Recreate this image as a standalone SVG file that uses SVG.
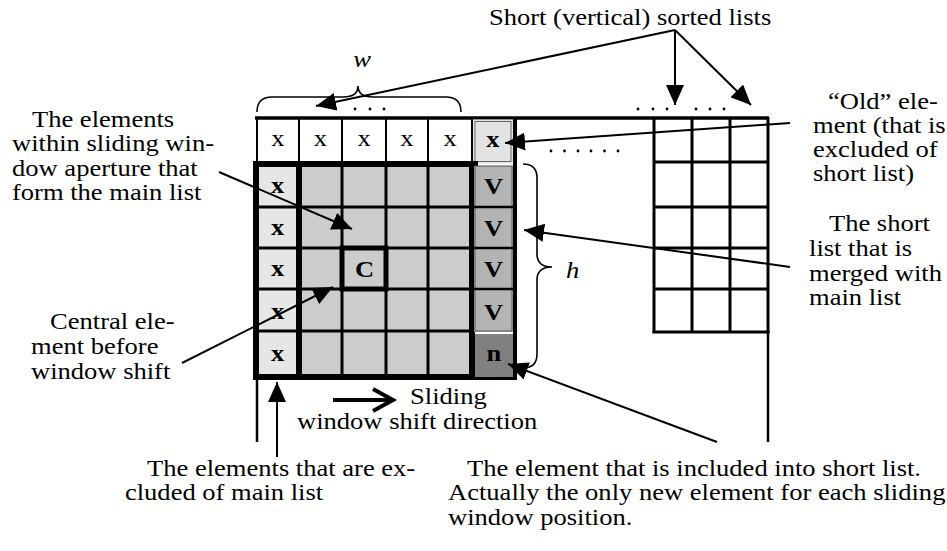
<svg xmlns="http://www.w3.org/2000/svg" width="947" height="551" viewBox="0 0 947 551">
<defs>
  <marker id="ah" markerUnits="userSpaceOnUse" markerWidth="20" markerHeight="18" refX="20" refY="9" orient="auto" viewBox="0 0 20 18">
    <path d="M0,0 L20,9 L0,18 z" fill="#000"/>
  </marker>
</defs>
<style>
  text { font-family: "Liberation Serif", "Times New Roman", serif; font-size: 22.5px; fill: #000; }
  .b { font-weight: bold; }
  .c { text-anchor: middle; }
  .i { font-style: italic; }
  .ln { stroke: #000; fill: none; }
  .grid { stroke: #000; stroke-width: 3; fill: none; }
  .thin { stroke: #000; stroke-width: 2; fill: none; }
  .thick { stroke: #000; stroke-width: 6; fill: none; }
  .conn { stroke: #000; stroke-width: 2; fill: none; }
  .dot { fill: #000; }
</style>
<rect width="947" height="551" fill="#fff"/>

<!-- frame: top line and the two lines running down below the grids -->
<g id="frame">
  <line class="ln" x1="255" y1="118" x2="769" y2="118" stroke-width="3.5"/>
  <line class="ln" x1="257" y1="377" x2="257" y2="442" stroke-width="2.5"/>
  <line class="ln" x1="768" y1="332" x2="768" y2="442" stroke-width="2.5"/>
</g>

<!-- top row of elements above the window (text is set wide: x scaled by 1.18) -->
<g id="top-row">
  <line class="thin" x1="257" y1="118" x2="257" y2="164"/>
  <line class="thin" x1="299" y1="118" x2="299" y2="164"/>
  <line class="thin" x1="342" y1="118" x2="342" y2="164"/>
  <line class="thin" x1="386" y1="118" x2="386" y2="164"/>
  <line class="thin" x1="428" y1="118" x2="428" y2="164"/>
  <g transform="scale(1.18 1)">
    <text class="c" x="235.6" y="146">x</text>
    <text class="c" x="271.6" y="146">x</text>
    <text class="c" x="308.5" y="146">x</text>
    <text class="c" x="344.9" y="146">x</text>
    <text class="c" x="381.4" y="146">x</text>
  </g>
</g>

<!-- old element leaving the short list -->
<g id="old-element">
  <rect x="472" y="119.5" width="42" height="44" fill="#e3e3e3"/>
  <rect x="475" y="121.5" width="36" height="40" fill="none" stroke="#666" stroke-width="1"/>
  <line class="thin" x1="472" y1="118" x2="472" y2="164"/>
  <g transform="scale(1.18 1)">
    <text class="b c" x="417.8" y="147">x</text>
  </g>
</g>

<!-- sliding window: excluded column plus main list -->
<g id="window">
  <rect x="256" y="164" width="43" height="213" fill="#e6e6e6"/>
  <rect x="299" y="164" width="173" height="213" fill="#cccccc"/>
  <line class="grid" x1="256" y1="207" x2="472" y2="207"/>
  <line class="grid" x1="256" y1="248" x2="472" y2="248"/>
  <line class="grid" x1="256" y1="289" x2="472" y2="289"/>
  <line class="grid" x1="256" y1="331" x2="472" y2="331"/>
  <line class="grid" x1="342" y1="164" x2="342" y2="377"/>
  <line class="grid" x1="386" y1="164" x2="386" y2="377"/>
  <line class="grid" x1="428" y1="164" x2="428" y2="377"/>
  <line class="thick" x1="253" y1="164" x2="478" y2="164"/>
  <line class="thick" x1="256" y1="161" x2="256" y2="380"/>
  <line class="thick" x1="299" y1="161" x2="299" y2="380"/>
  <line class="thick" x1="472" y1="161" x2="472" y2="380"/>
  <line class="thick" x1="253" y1="377" x2="517" y2="377"/>
  <g transform="scale(1.18 1)">
    <text class="b c" x="235.2" y="193">x</text>
    <text class="b c" x="235.2" y="235">x</text>
    <text class="b c" x="235.2" y="276">x</text>
    <text class="b c" x="235.2" y="319">x</text>
    <text class="b c" x="235.2" y="361">x</text>
  </g>
</g>

<!-- central element -->
<g id="central-element">
  <rect x="342" y="248" width="44" height="41" fill="#cccccc" stroke="#000" stroke-width="5"/>
  <g transform="scale(1.18 1)">
    <text class="b c" x="308.9" y="277">C</text>
  </g>
</g>

<!-- short list merged with the main list -->
<g id="short-list">
  <rect x="474" y="166" width="40" height="166" fill="#b3b3b3"/>
  <rect x="475" y="166" width="37" height="165" fill="none" stroke="#555" stroke-width="1"/>
  <line class="ln" x1="472" y1="207" x2="514" y2="207" stroke-width="2.5"/>
  <line class="ln" x1="472" y1="248" x2="514" y2="248" stroke-width="2.5"/>
  <line class="ln" x1="472" y1="289" x2="514" y2="289" stroke-width="2.5"/>
  <g transform="scale(1.18 1)">
    <text class="b c" x="418.2" y="194">V</text>
    <text class="b c" x="418.2" y="236">V</text>
    <text class="b c" x="418.2" y="277">V</text>
    <text class="b c" x="418.2" y="320">V</text>
  </g>
</g>

<!-- new element entering the short list -->
<g id="new-element">
  <rect x="475" y="334" width="40" height="43" fill="#808080"/>
  <g transform="scale(1.18 1)">
    <text class="b c" x="418.6" y="361">n</text>
  </g>
</g>

<line class="ln" x1="515" y1="117" x2="515" y2="380" stroke-width="4"/>

<!-- other short sorted lists -->
<g id="short-lists">
  <line class="grid" x1="654" y1="118" x2="654" y2="333"/>
  <line class="grid" x1="692" y1="118" x2="692" y2="333"/>
  <line class="grid" x1="730" y1="118" x2="730" y2="333"/>
  <line class="grid" x1="768" y1="117" x2="768" y2="333"/>
  <line class="grid" x1="654" y1="162" x2="768" y2="162"/>
  <line class="grid" x1="654" y1="207" x2="768" y2="207"/>
  <line class="grid" x1="654" y1="248" x2="768" y2="248"/>
  <line class="grid" x1="654" y1="289" x2="768" y2="289"/>
  <line class="grid" x1="652.5" y1="332" x2="769.5" y2="332"/>
</g>

<!-- ellipsis dots -->
<g id="dots">
  <circle class="dot" cx="355" cy="109" r="1.4"/>
  <circle class="dot" cx="370" cy="109" r="1.4"/>
  <circle class="dot" cx="384" cy="109" r="1.4"/>
  <circle class="dot" cx="638" cy="109" r="1.4"/>
  <circle class="dot" cx="653" cy="109" r="1.4"/>
  <circle class="dot" cx="667" cy="109" r="1.4"/>
  <circle class="dot" cx="696" cy="109" r="1.4"/>
  <circle class="dot" cx="710" cy="109" r="1.4"/>
  <circle class="dot" cx="724" cy="109" r="1.4"/>
  <circle class="dot" cx="551" cy="151" r="1.4"/>
  <circle class="dot" cx="564.5" cy="151" r="1.4"/>
  <circle class="dot" cx="578" cy="151" r="1.4"/>
  <circle class="dot" cx="591" cy="151" r="1.4"/>
  <circle class="dot" cx="604.5" cy="151" r="1.4"/>
  <circle class="dot" cx="618" cy="151" r="1.4"/>
</g>

<!-- dimension braces -->
<g id="brace-w">
  <path class="ln" stroke-width="1.6" d="M257,112 Q257,97 272,97 L343,97 Q358,97 358,86 Q358,97 373,97 L446,97 Q461,97 461,112"/>
  <g transform="scale(1.18 1)">
    <text class="i c" x="306.8" y="67">w</text>
  </g>
</g>
<g id="brace-h">
  <path class="ln" stroke-width="1.6" d="M523,164 Q537,164 537,178 L537,254 Q537,267 552,267 Q537,267 537,280 L537,354 Q537,368 523,368"/>
  <g transform="scale(1.18 1)">
    <text class="i" x="479.7" y="278">h</text>
  </g>
</g>

<!-- connectors -->
<g id="connectors">
  <line class="conn" x1="675" y1="30" x2="316" y2="106" marker-end="url(#ah)"/>
  <line class="conn" x1="675" y1="30" x2="675" y2="105" marker-end="url(#ah)"/>
  <line class="conn" x1="675" y1="30" x2="751" y2="105" marker-end="url(#ah)"/>
  <line class="conn" x1="790" y1="123" x2="505" y2="143" marker-end="url(#ah)"/>
  <line class="conn" x1="790" y1="267" x2="524" y2="230" marker-end="url(#ah)"/>
  <line class="conn" x1="219" y1="172" x2="352" y2="229" marker-end="url(#ah)"/>
  <line class="conn" x1="182" y1="363" x2="333" y2="287" marker-end="url(#ah)"/>
  <line class="conn" x1="277" y1="457" x2="277" y2="382" marker-end="url(#ah)"/>
  <line class="conn" x1="717" y1="442" x2="508" y2="364" marker-end="url(#ah)"/>
  <!-- window shift direction -->
  <line class="ln" stroke-width="4" x1="333" y1="400" x2="391" y2="400"/>
  <path class="ln" stroke-width="4" d="M373,389 L393,400 L373,411"/>
</g>

<!-- labels: Times-metric text set 1.18x wide -->
<g id="labels" transform="scale(1.18 1)">
  <text x="414.4" y="25">Short (vertical) sorted lists</text>

  <text x="27.1" y="127">The elements</text>
  <text x="10.2" y="151.5">within sliding win-</text>
  <text x="10.2" y="176">dow aperture that</text>
  <text x="10.2" y="200.5">form the main list</text>

  <text x="42.4" y="329">Central ele-</text>
  <text x="26.3" y="354">ment before</text>
  <text x="26.3" y="379">window shift</text>

  <text x="701.7" y="109">“Old” ele-</text>
  <text x="689" y="133">ment (that is</text>
  <text x="689" y="157">excluded of</text>
  <text x="689" y="181">short list)</text>

  <text x="702.5" y="231">The short</text>
  <text x="685.6" y="256">list that is</text>
  <text x="685.6" y="281">merged with</text>
  <text x="685.6" y="305">main list</text>

  <text x="347.5" y="404">Sliding</text>
  <text x="251.7" y="429">window shift direction</text>

  <text x="124.6" y="476">The elements that are ex-</text>
  <text x="105.9" y="500.5">cluded of main list</text>

  <text x="395.8" y="476">The element that is included into short list.</text>
  <text x="379.7" y="500.5">Actually the only new element for each sliding</text>
  <text x="379.7" y="525">window position.</text>
</g>
</svg>
